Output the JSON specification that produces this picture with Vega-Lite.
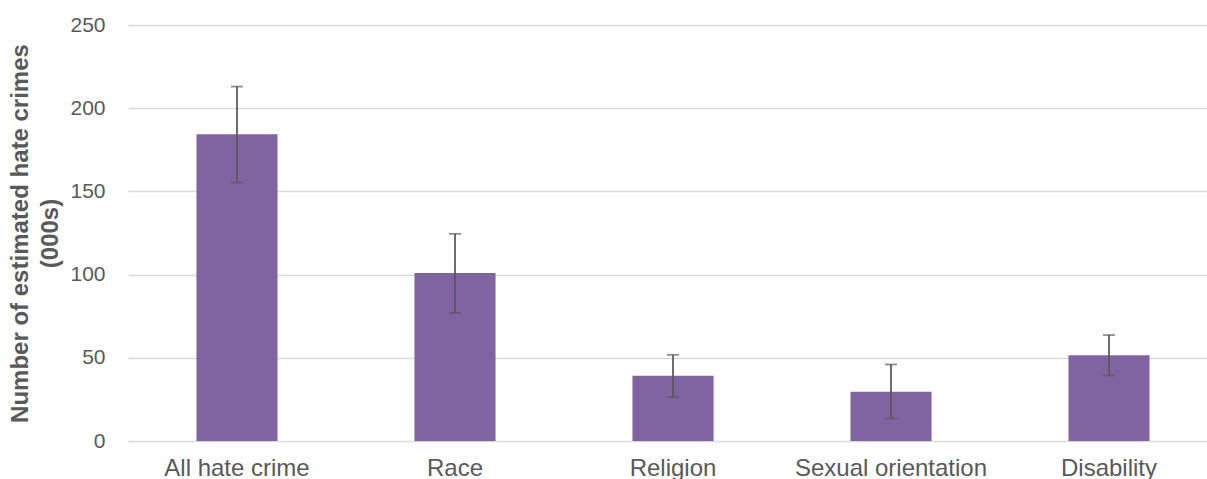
{
  "$schema": "https://vega.github.io/schema/vega-lite/v6.json",
  "autosize": {"type": "none"},
  "padding": {"left": 128, "top": 25, "right": 0, "bottom": 38},
  "width": 1090,
  "height": 416,
  "background": "white",
  "config": {"view": {"stroke": null}, "font": "Liberation Sans"},
  "data": {
    "values": [
      {"category": "All hate crime", "value": 184.3, "lo": 155.3, "hi": 213.0},
      {"category": "Race", "value": 101.0, "lo": 77.0, "hi": 124.5},
      {"category": "Religion", "value": 39.2, "lo": 26.5, "hi": 51.8},
      {"category": "Sexual orientation", "value": 29.6, "lo": 13.5, "hi": 46.0},
      {"category": "Disability", "value": 51.6, "lo": 39.4, "hi": 63.7}
    ]
  },
  "encoding": {
    "x": {
      "field": "category",
      "type": "nominal",
      "sort": null,
      "scale": {"paddingInner": 0.628, "paddingOuter": 0.314},
      "axis": {
        "title": null,
        "labelAngle": 0,
        "labelFontSize": 24,
        "labelColor": "#595959",
        "labelFont": "Liberation Sans",
        "labelPadding": 15,
        "labelLimit": 0,
        "ticks": false,
        "domain": false,
        "grid": false
      }
    }
  },
  "layer": [
    {
      "mark": {"type": "bar", "color": "#8064a2"},
      "encoding": {
        "y": {
          "field": "value",
          "type": "quantitative",
          "scale": {"domain": [0, 250], "nice": false},
          "axis": {
            "values": [0, 50, 100, 150, 200, 250],
            "title": ["Number of estimated hate crimes", "(000s)"],
            "titleFontSize": 24,
            "titleFontWeight": "bold",
            "titleColor": "#595959",
            "titleFont": "Liberation Sans",
            "titleLineHeight": 30,
            "titleAngle": -90,
            "titleAlign": "center",
            "titleBaseline": "bottom",
            "titleX": -96,
            "titleY": 208,
            "labelFontSize": 21,
            "labelColor": "#595959",
            "labelFont": "Liberation Sans",
            "labelPadding": 23,
            "ticks": false,
            "domain": false,
            "grid": true,
            "gridColor": "#d9d9d9",
            "gridWidth": 1.5
          }
        }
      }
    },
    {
      "mark": {"type": "rule", "color": "#595959", "strokeWidth": 1.75},
      "encoding": {
        "y": {"field": "lo", "type": "quantitative"},
        "y2": {"field": "hi"}
      }
    },
    {
      "mark": {"type": "tick", "color": "#595959", "size": 12, "thickness": 1.75},
      "encoding": {"y": {"field": "lo", "type": "quantitative"}}
    },
    {
      "mark": {"type": "tick", "color": "#595959", "size": 12, "thickness": 1.75},
      "encoding": {"y": {"field": "hi", "type": "quantitative"}}
    }
  ]
}
